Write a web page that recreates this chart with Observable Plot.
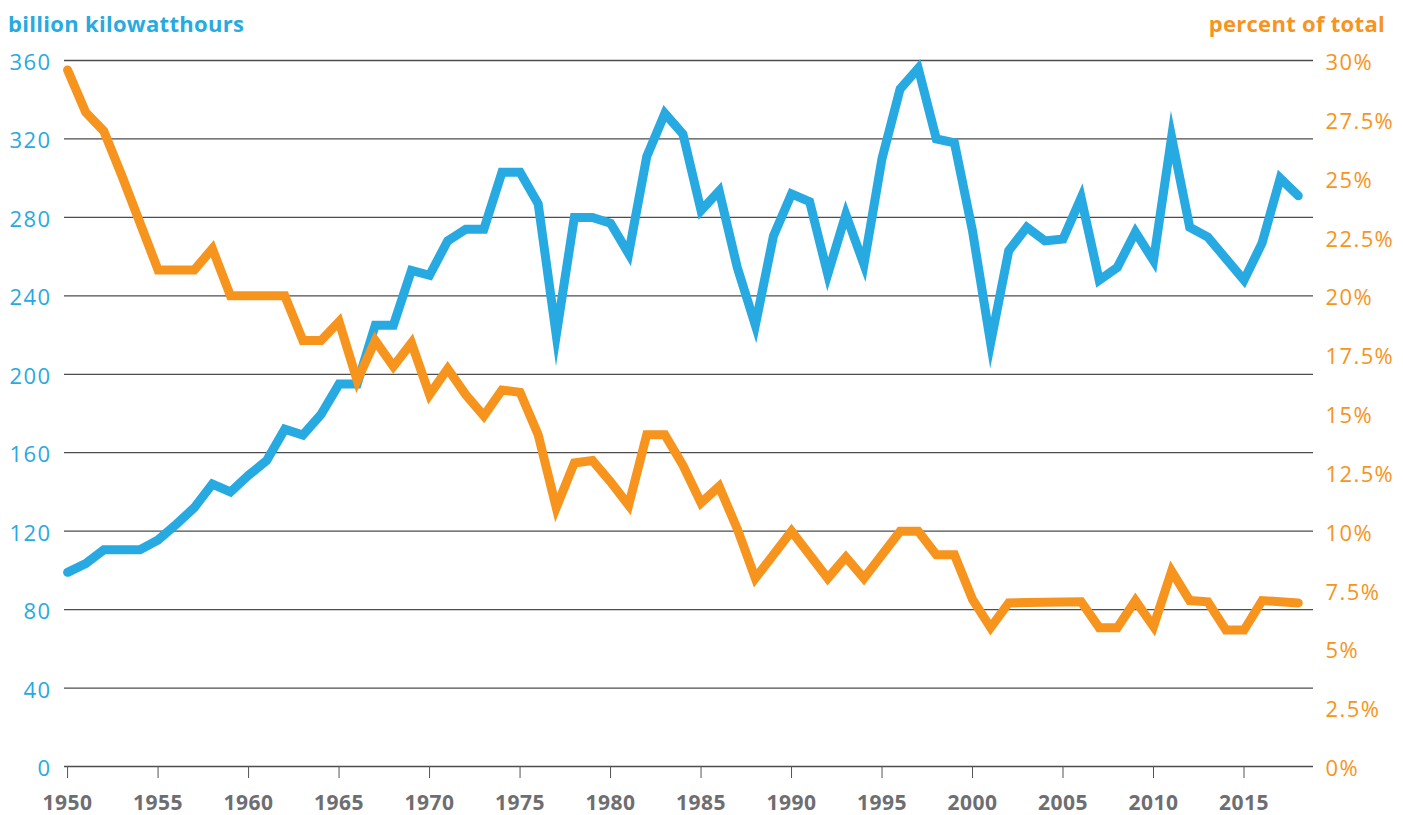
<!DOCTYPE html>
<html>
<head>
<meta charset="utf-8">
<script src="https://cdn.jsdelivr.net/npm/d3@7"></script>
<script src="https://cdn.jsdelivr.net/npm/@observablehq/plot@0.6"></script>
<style>
  html, body { margin: 0; padding: 0; background: #fff; }
  #wrap { position: relative; width: 1403px; height: 815px; font-family: "Open Sans", sans-serif; }
  .t { position: absolute; top: 8px; font-weight: 700; font-size: 22px; letter-spacing: 0.3px; line-height: normal; white-space: nowrap; }
  #tl { left: 8px; color: #27aae1; }
  #tr { right: 18px; color: #f7941d; }
  #chart { position: absolute; left: 0; top: 40px; }
  #chart g[aria-label="x-axis tick label"] text { font-weight: 700; letter-spacing: 0.5px; }
  #chart g[aria-label="y-axis tick label"] text { letter-spacing: 1.4px; }
</style>
</head>
<body>
<div id="wrap">
  <div class="t" id="tl">billion kilowatthours</div>
  <div class="t" id="tr">percent of total</div>
  <div id="chart"></div>
</div>
<script>
const years = [
  1950,1951,1952,1953,1954,1955,1956,1957,1958,1959,
  1960,1961,1962,1963,1964,1965,1966,1967,1968,1969,
  1970,1971,1972,1973,1974,1975,1976,1977,1978,1979,
  1980,1981,1982,1983,1984,1985,1986,1987,1988,1989,
  1990,1991,1992,1993,1994,1995,1996,1997,1998,1999,
  2000,2001,2002,2003,2004,2005,2006,2007,2008,2009,
  2010,2011,2012,2013,2014,2015,2016,2017,2018
];
// hydroelectric generation, billion kWh
const kwh = [
  99,103.5,110.5,110.5,110.5,115.5,123.5,132,144,140,
  148.5,156,172,169,179.5,195,195,225,225,253,
  250.5,268,274,274,303,303,287,220,280,280,
  277,261.5,311,333,322.5,283.5,293.5,254.5,225,270.5,
  292,288,251,281.5,256,310,345.5,356,320,318,
  273,216,263,275,268,269,290,248,254.5,272.5,
  258,321,275,270,259,248,267,300,291
];
// share of total generation, percent
const pct = [
  29.6,27.8,27.0,25.1,23.1,21.1,21.1,21.1,22.0,20.0,
  20.0,20.0,20.0,18.1,18.1,18.9,16.4,18.1,17.0,18.0,
  15.8,16.9,15.8,14.9,16.0,15.9,14.1,11.0,12.9,13.0,
  12.1,11.1,14.1,14.1,12.8,11.2,11.9,10.1,8.0,9.0,
  10.0,9.0,8.0,8.9,8.0,9.0,10.0,10.0,9.0,9.0,
  7.1,5.9,6.95,6.97,6.98,6.99,7.0,5.9,5.9,7.05,
  5.95,8.3,7.05,7.0,5.8,5.8,7.05,7.0,6.95
];
const kwhTicks = [0,40,80,120,160,200,240,280,320,360];
const pctTicks = [0,2.5,5,7.5,10,12.5,15,17.5,20,22.5,25,27.5,30];
const yearTicks = [1950,1955,1960,1965,1970,1975,1980,1985,1990,1995,2000,2005,2010,2015];
const pctToKwh = 360 / 30; // right axis: 30% aligns with 360

const data = years.map((year, i) => ({year, kwh: kwh[i], pct: pct[i]}));

const blue = "#27aae1", orange = "#f7941d";

const chart = Plot.plot({
  width: 1403,
  height: 775,
  marginTop: 20,
  marginBottom: 49,
  marginLeft: 64,
  marginRight: 90,
  style: {fontFamily: "'Open Sans', sans-serif", background: "white", overflow: "visible"},
  x: {domain: [1949.83, 2018.84]},
  y: {domain: [0, 360]},
  marks: [
    Plot.ruleY(kwhTicks, {stroke: "#4d4d4d", strokeWidth: 1.3}),
    Plot.axisX({ticks: yearTicks, tickFormat: d => String(d), tickSize: 12, tickPadding: 17,
      stroke: "#555", fill: "#6d6e71", fontSize: 21, fontWeight: 700, label: null}),
    Plot.axisY({anchor: "left", ticks: kwhTicks, tickSize: 0, tickPadding: 13, dy: 2.5,
      fill: blue, fontSize: 22, label: null}),
    Plot.axisY({anchor: "right", ticks: pctTicks.map(p => p * pctToKwh),
      tickFormat: d => (d / pctToKwh) + "%", tickSize: 0, tickPadding: 12, dy: 2.5,
      fill: orange, fontSize: 22, label: null}),
    Plot.line(data, {x: "year", y: "kwh", stroke: blue, strokeWidth: 9,
      strokeLinecap: "round", strokeLinejoin: "miter", strokeMiterlimit: 10}),
    Plot.line(data, {x: "year", y: d => d.pct * pctToKwh, stroke: orange, strokeWidth: 9,
      strokeLinecap: "round", strokeLinejoin: "miter", strokeMiterlimit: 10})
  ]
});
document.getElementById("chart").appendChild(chart);
</script>
</body>
</html>
